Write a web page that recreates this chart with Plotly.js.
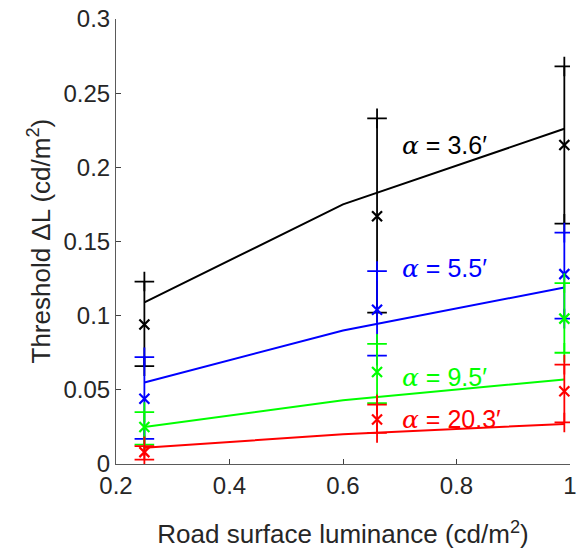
<!DOCTYPE html>
<html><head><meta charset="utf-8">
<script src="https://cdn.plot.ly/plotly-3.0.1.min.js"></script>
<style>html,body{margin:0;padding:0;background:#fff}#plot{width:585px;height:552px}</style>
</head><body><div id="plot"></div>
<script>
// Measured data
const xData = [0.25, 0.66, 0.99];
const xModel = [0.25, 0.6, 0.99];
const seriesLabels = ["3.6′", "5.5′", "9.5′", "20.3′"];
const seriesColors = ["#000000", "#0000ff", "#00ff00", "#ff0000"];
const mean36 = [0.094, 0.167, 0.215];
const lo36 = [0.066, 0.102, 0.162];
const hi36 = [0.123, 0.233, 0.268];
const model36 = [0.109, 0.175, 0.226];
const mean55 = [0.044, 0.104, 0.128];
const lo55 = [0.017, 0.073, 0.098];
const hi55 = [0.072, 0.130, 0.156];
const model55 = [0.055, 0.090, 0.119];
const mean95 = [0.025, 0.062, 0.098];
const lo95 = [0.013, 0.041, 0.075];
const hi95 = [0.035, 0.081, 0.122];
const model95 = [0.025, 0.043, 0.057];
const mean203 = [0.008, 0.030, 0.049];
const lo203 = [0.003, 0.021, 0.028];
const hi203 = [0.012, 0.040, 0.067];
const model203 = [0.011, 0.020, 0.027];
const labelX = [0.70, 0.70, 0.70, 0.70];
const labelY = [0.2145, 0.132, 0.058, 0.030];
const yTickVals = [0, 0.05, 0.1, 0.15, 0.2, 0.25, 0.3];
const yTickText = ['0', '0.05', '0.1', '0.15', '0.2', '0.25', '0.3'];
const xTickVals = [0.2, 0.4, 0.6, 0.8, 1];
const xTickText = ['0.2', '0.4', '0.6', '0.8', '1'];

const means = [mean36, mean55, mean95, mean203];
const los = [lo36, lo55, lo95, lo203];
const his = [hi36, hi55, hi95, hi203];
const models = [model36, model55, model95, model203];

const traces = [];
const annotations = [];
for (let s = 0; s < 4; s++) {
  const c = seriesColors[s];
  const ex = [], ey = [];
  for (let i = 0; i < xData.length; i++) {
    ex.push(xData[i], xData[i], null);
    ey.push(los[s][i], his[s][i], null);
  }
  traces.push({
    x: ex, y: ey, mode: 'lines+markers', type: 'scatter', showlegend: false,
    line: {color: c, width: 1.8},
    marker: {symbol: 'cross-thin', size: 14, color: c, line: {color: c, width: 1.8}},
    hoverinfo: 'skip'
  });
  traces.push({
    x: xModel, y: models[s], mode: 'lines', type: 'scatter', showlegend: false,
    line: {color: c, width: 2}, hoverinfo: 'skip'
  });
  traces.push({
    x: xData, y: means[s], mode: 'markers', type: 'scatter', showlegend: false,
    marker: {symbol: 'x-thin', size: 10, color: c, line: {color: c, width: 2.2}},
    hoverinfo: 'skip'
  });
  annotations.push({
    x: labelX[s], y: labelY[s], xref: 'x', yref: 'y', xanchor: 'left', yanchor: 'middle',
    showarrow: false,
    text: '<i style="font-family:\'DejaVu Serif\'">α</i> = ' + seriesLabels[s],
    font: {family: 'Liberation Sans, Arial, sans-serif', size: 25, color: c}
  });
}

const tickFont = {family: 'Liberation Sans, Arial, sans-serif', size: 24, color: '#262626'};
const titleFont = {family: 'Liberation Sans, Arial, sans-serif', size: 26, color: '#262626'};
// y-axis title placed as a rotated annotation for exact placement
annotations.push({
  xref: 'paper', yref: 'paper', x: (40 - 116) / 454, y: 0.5, xanchor: 'center', yanchor: 'middle',
  textangle: -90, showarrow: false,
  text: 'Threshold ΔL (cd/m<sup>2</sup>)', font: titleFont
});

const layout = {
  width: 585, height: 552,
  margin: {l: 116, r: 15, t: 19, b: 88, pad: 0},
  paper_bgcolor: '#fff', plot_bgcolor: '#fff',
  showlegend: false,
  xaxis: {
    range: [0.2, 1], tickvals: xTickVals, ticktext: xTickText,
    ticks: 'inside', ticklen: 5, tickcolor: '#404040', tickwidth: 1,
    showline: true, linecolor: '#5a5a5a', linewidth: 1, mirror: false,
    showgrid: false, zeroline: false, tickfont: tickFont,
    title: {text: 'Road surface luminance (cd/m<sup>2</sup>)', font: titleFont, standoff: 27}
  },
  yaxis: {
    range: [0, 0.3], tickvals: yTickVals, ticktext: yTickText, ticksuffix: '\u00a0',
    ticks: 'inside', ticklen: 5, tickcolor: '#404040', tickwidth: 1,
    showline: true, linecolor: '#5a5a5a', linewidth: 1, mirror: false,
    showgrid: false, zeroline: false, tickfont: tickFont
  },
  annotations: annotations
};
Plotly.newPlot('plot', traces, layout, {staticPlot: true, displayModeBar: false});
</script></body></html>
